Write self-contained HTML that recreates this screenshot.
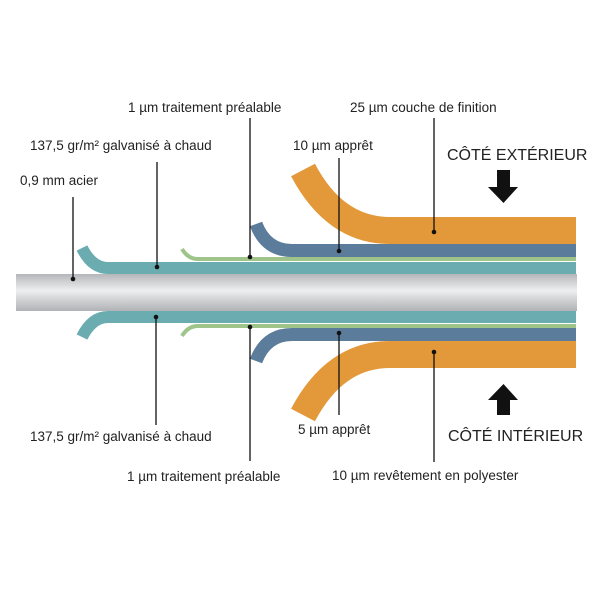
<!DOCTYPE html>
<html><head><meta charset="utf-8"><style>
body{margin:0;background:#fff}
svg text{font-family:"Liberation Sans",sans-serif;font-size:13.5px;fill:#222}
</style></head><body>
<svg width="600" height="600" viewBox="0 0 600 600" xmlns="http://www.w3.org/2000/svg">
<defs>
<linearGradient id="st" x1="0" y1="0" x2="0" y2="1">
<stop offset="0" stop-color="#b4b6b9"/><stop offset="0.45" stop-color="#eeeff0"/><stop offset="0.6" stop-color="#dcdddf"/><stop offset="1" stop-color="#b0b2b5"/>
</linearGradient>
<g id="lay" fill="none" stroke-linecap="butt">
<path d="M576,230.5 H390 Q335,230.5 303,170" stroke="#e3993a" stroke-width="27"/>
<path d="M576,250.5 H292 Q266,250.5 256,224" stroke="#5b7c9a" stroke-width="13"/>
<path d="M576,259 H198 Q188,259 182,249" stroke="#9ec48a" stroke-width="4"/>
<path d="M576,268 H108 Q92,268 82,248" stroke="#6aacb0" stroke-width="12"/>
</g>
</defs>
<use href="#lay"/>
<use href="#lay" transform="translate(0,585) scale(1,-1)"/>
<rect x="16" y="274" width="561" height="37" fill="url(#st)"/>
<g stroke="#111" stroke-width="1.3">
<line x1="73" y1="197" x2="73" y2="279"/>
<line x1="157" y1="162" x2="157" y2="267"/>
<line x1="250" y1="118" x2="250" y2="257"/>
<line x1="339" y1="158" x2="339" y2="251"/>
<line x1="434" y1="118" x2="434" y2="232"/>
<line x1="156" y1="317" x2="156" y2="425"/>
<line x1="250" y1="327" x2="250" y2="461"/>
<line x1="339" y1="333" x2="339" y2="415"/>
<line x1="434" y1="352" x2="434" y2="462"/>
</g>
<g fill="#111">
<circle cx="73" cy="279" r="2.3"/><circle cx="157" cy="267" r="2.3"/><circle cx="250" cy="257" r="2.3"/><circle cx="339" cy="251" r="2.3"/><circle cx="434" cy="232" r="2.3"/>
<circle cx="156" cy="317" r="2.3"/><circle cx="250" cy="327" r="2.3"/><circle cx="339" cy="333" r="2.3"/><circle cx="434" cy="352" r="2.3"/>
<polygon points="497,170 510,170 510,187 518,187 503.5,203 488,187 497,187"/>
<polygon points="497,415 510,415 510,400 518,400 503.5,384 488,400 497,400"/>
</g>
<text x="128" y="112">1 µm traitement préalable</text>
<text x="350" y="112">25 µm couche de finition</text>
<text x="30" y="150">137,5 gr/m² galvanisé à chaud</text>
<text x="293" y="150">10 µm apprêt</text>
<text x="447" y="160" style="font-size:16px">CÔTÉ EXTÉRIEUR</text>
<text x="20" y="185">0,9 mm  acier</text>
<text x="30" y="441">137,5 gr/m² galvanisé à chaud</text>
<text x="298" y="434">5 µm apprêt</text>
<text x="448" y="441" style="font-size:16px">CÔTÉ INTÉRIEUR</text>
<text x="127" y="481">1 µm traitement préalable</text>
<text x="332" y="480">10 µm revêtement en polyester</text>
</svg>
</body></html>
